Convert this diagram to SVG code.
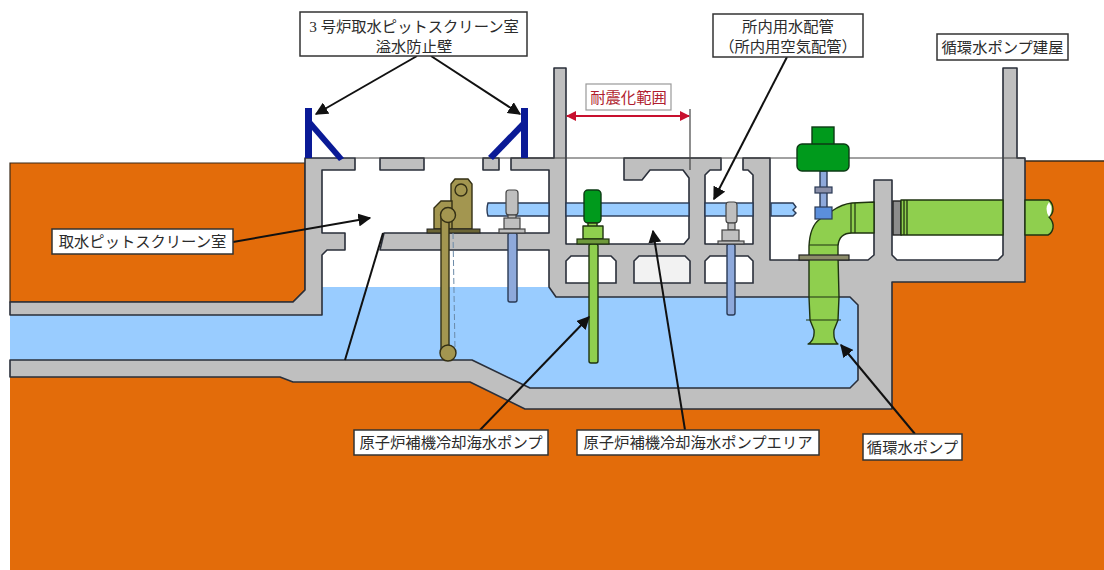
<svg xmlns="http://www.w3.org/2000/svg" width="1104" height="570" viewBox="0 0 1104 570">
<style>
.lb{fill:#fff;stroke:#333;stroke-width:1.5}
.t{font-family:"Liberation Serif","Noto Sans CJK JP",sans-serif;font-size:15.3px;fill:#2b2b2b;text-anchor:middle}
.r{fill:#b01c2e}
.g{fill:#bfbfbf;stroke:#2a2f3a;stroke-width:1.6;stroke-linejoin:round}
.w{fill:#fff;stroke:#2a2f3a;stroke-width:1.6}
.p{fill:#99ccff;stroke:#2a3a55;stroke-width:1.4}
.gr{fill:#8fcf4e;stroke:#1f3310;stroke-width:1.4;stroke-linejoin:round}
.dg{fill:#009a1c;stroke:#0c3a14;stroke-width:1.4}
.bl{fill:#8ea9db;stroke:#2a3a55;stroke-width:1.4}
.mg{fill:#bfbfbf;stroke:#444;stroke-width:1.2}
.br{fill:#a39650;stroke:#332f14;stroke-width:1.4}
.n{fill:#0a1a96}
.a{fill:none;stroke:#111;stroke-width:2;marker-end:url(#ah)}
.f{fill:none;stroke:#111;stroke-width:2}
</style>
<defs>
<marker id="ah" viewBox="0 0 10 10" refX="9" refY="5" markerWidth="6.500" markerHeight="6.500" orient="auto" markerUnits="strokeWidth"><path d="M0 0L10 5L0 10Z" fill="#111"/></marker>
<marker id="rh" viewBox="0 0 10 10" refX="9" refY="5" markerWidth="5" markerHeight="5" orient="auto-start-reverse" markerUnits="strokeWidth"><path d="M0 0L10 5L0 10Z" fill="#c8102e"/></marker>
</defs>
<rect width="1104" height="570" fill="#fff"/>

<g id="ground">
<path d="M10 163H305V290L293 302H10Z" fill="#e36c0a" stroke="#3a2a1a" stroke-width="1.2"/>
<path d="M10 377H280L293 382H470L525 409H892V282H1025V161H1104V570H10Z" fill="#e36c0a"/>
<path d="M1025 161H1104" fill="none" stroke="#3a2a1a" stroke-width="1.4"/>
</g>

<g id="water">
<path d="M10 315H322V287H549L556 297H858V388H530L472 360H10Z" fill="#99ccff"/>
</g>

<g id="structure">
<path class="g" d="M10 302H293L305 290V158H355V170H322V233H345V250H327L322 255V315H10Z"/>
<path class="g" d="M380 158H424V170H380Z"/>
<path class="g" d="M483 158H499V170H483Z"/>
<path class="g" d="M511 158H554V68H566V244H684L689 238V178L683 170H650L642 180H624V158H721V170H710L705 175V244H753V175L748 170H743V158H770V260H868L874 255V180H892V255L897 260H998L1003 255V68H1017V158H1025V282H892V409H525L470 382H293L280 377H10V360H472L530 388H850L858 380V305L850 297H556L549 287V250H380L384 233H549V170H511Z"/>
<path class="w" d="M571 256H611L616 261V283H566V261Z"/>
<path d="M639 256H685L690 261V283H634V261Z" fill="#f2f2f2" stroke="#2a2f3a" stroke-width="1.6"/>
<path class="w" d="M710 256H748L753 261V283H705V261Z"/>
<path d="M355 158H1025" stroke="#444" stroke-width="1" fill="none"/>
</g>

<g id="service-pipe">
<path class="p" d="M488 203H549V216H488Q486 209.500 488 203Z"/>
<rect class="p" x="566" y="203" width="123" height="13"/>
<rect class="p" x="705" y="203" width="48" height="13"/>
<path class="p" d="M771 203H793L796 207L793 210L796 213L793 216H771Z"/>
</g>

<g id="flood-barrier-left" class="n">
<rect x="305" y="108" width="7" height="50"/>
<path d="M312 121L344 158L339 161L312 130Z"/>
</g>
<g id="flood-barrier-right" class="n">
<rect x="521" y="108" width="7" height="50"/>
<path d="M521 122V131L493 160L488 156Z"/>
</g>

<g id="gate">
<path class="br" d="M451 229V184L455 179H468L472 184V229Z"/>
<path class="br" d="M434 229V208L441 201H452V229Z"/>
<rect x="427" y="229" width="53" height="4" fill="#6b6535" stroke="#222" stroke-width="1"/>
<circle cx="461" cy="190" r="6" class="br"/>
<rect class="br" x="441" y="215" width="8" height="136"/>
<circle cx="448" cy="215" r="7.500" class="br"/>
<circle cx="448" cy="353" r="8" class="br"/>
<path d="M453 233L455 350" stroke="#6b8aa8" stroke-width="1" stroke-dasharray="6 3" fill="none"/>
</g>

<g id="pump-left">
<rect class="bl" x="508" y="233" width="9" height="69" rx="2"/>
<rect class="mg" x="506" y="190" width="12" height="25" rx="3"/>
<rect class="mg" x="508" y="215" width="8" height="4"/>
<rect class="mg" x="504" y="218" width="16" height="11"/>
<rect class="mg" x="499" y="229" width="26" height="4"/>
</g>

<g id="pump-center">
<rect class="gr" x="589" y="244" width="9" height="119" rx="2"/>
<rect class="dg" x="584" y="190" width="17" height="33" rx="4"/>
<rect class="gr" x="588" y="223" width="9" height="4"/>
<rect class="gr" x="583" y="226" width="20" height="13"/>
<rect x="577" y="239" width="32" height="5" fill="#6f9a3c" stroke="#1f3310" stroke-width="1.2"/>
</g>

<g id="pump-right">
<rect class="bl" x="727" y="244" width="8" height="71" rx="2"/>
<rect class="mg" x="726" y="202" width="11" height="21" rx="3"/>
<rect class="mg" x="728" y="223" width="7" height="7"/>
<rect class="mg" x="722" y="230" width="17" height="11"/>
<rect class="mg" x="718" y="241" width="26" height="3"/>
</g>

<g id="circulating-pump">
<path class="gr" d="M874 202L852 203Q842 204 832 211L820 219Q810 226 809 246L809 297L810 320L814 330Q815 340 808 344H838Q833 340 834 330L838 320L839 297L838 256V246Q839 233 852 233H874Z"/>
<path d="M809 245H838M851 203V233M855 203V233M809 297H839M806 320H841" stroke="#1f3310" stroke-width="1.2" fill="none"/>
<rect x="799" y="255" width="50" height="5" fill="#8c8c6a" stroke="#222" stroke-width="1.200"/>
<rect class="bl" x="820" y="171" width="7" height="37"/>
<rect x="815" y="187" width="17" height="6" fill="#8a8fa8" stroke="#2a3a55" stroke-width="1.2"/>
<rect x="815" y="207" width="17" height="12" fill="#5b8fdc" stroke="#2a3a55" stroke-width="1.2"/>
<rect class="dg" x="812" y="127" width="22" height="18"/>
<rect class="dg" x="797" y="144" width="52" height="27" rx="5"/>
</g>

<g id="circulating-pipe">
<rect x="893" y="201" width="8" height="34" fill="#8c8c8c" stroke="#222" stroke-width="1.4"/>
<rect class="gr" x="901" y="200" width="102" height="35"/>
<path d="M904 200V235M907 200V235" stroke="#1f3310" stroke-width="1.300"/>
<path class="gr" d="M1025 200H1049Q1053 204 1053 209Q1053 214 1049 217Q1054 222 1053 228Q1052 233 1048 235H1025Z"/>
<path d="M1049 202Q1044 209 1049 217Q1054 209 1049 202Z" fill="#fff"/>
</g>

<g id="connectors">
<path class="a" d="M417 56L316 114"/>
<path class="a" d="M431 56L520 114"/>
<path class="a" d="M233 242L370 218"/>
<path class="f" d="M383 233L345 360"/>
<path class="a" d="M480 430L589 317"/>
<path class="a" d="M685 430L653 231"/>
<path class="a" d="M787 57L714 199"/>
<path class="a" d="M915 434L841 345"/>
<path d="M567 116H689" fill="none" stroke="#c8102e" stroke-width="2" marker-start="url(#rh)" marker-end="url(#rh)"/>
<path d="M690 109V170" stroke="#444" stroke-width="1.2"/>
</g>

<g id="label-barrier"><rect class="lb" x="300" y="12" width="227" height="44"/><text class="t" x="414" y="32">3 号炉取水ピットスクリーン室</text><text class="t" x="414" y="52">溢水防止壁</text></g>
<g id="label-service"><rect class="lb" x="713" y="14" width="150" height="43"/><text class="t" x="788" y="32">所内用水配管</text><text class="t" x="788" y="52">（所内用空気配管）</text></g>
<g id="label-building"><rect class="lb" x="937" y="34" width="131" height="26"/><text class="t" x="1002.500" y="53">循環水ポンプ建屋</text></g>
<g id="label-range"><rect x="586" y="84" width="85" height="26" fill="#fff" stroke="#999" stroke-width="1.2"/><text class="t r" x="628.500" y="103">耐震化範囲</text></g>
<g id="label-screen"><rect class="lb" x="52" y="229" width="181" height="25"/><text class="t" x="142.500" y="247">取水ピットスクリーン室</text></g>
<g id="label-pump"><rect class="lb" x="354" y="430" width="194" height="25"/><text class="t" x="451" y="448">原子炉補機冷却海水ポンプ</text></g>
<g id="label-area"><rect class="lb" x="577" y="430" width="242" height="25"/><text class="t" x="698" y="448">原子炉補機冷却海水ポンプエリア</text></g>
<g id="label-circ"><rect class="lb" x="863" y="434" width="99" height="26"/><text class="t" x="912.500" y="453">循環水ポンプ</text></g>
</svg>
